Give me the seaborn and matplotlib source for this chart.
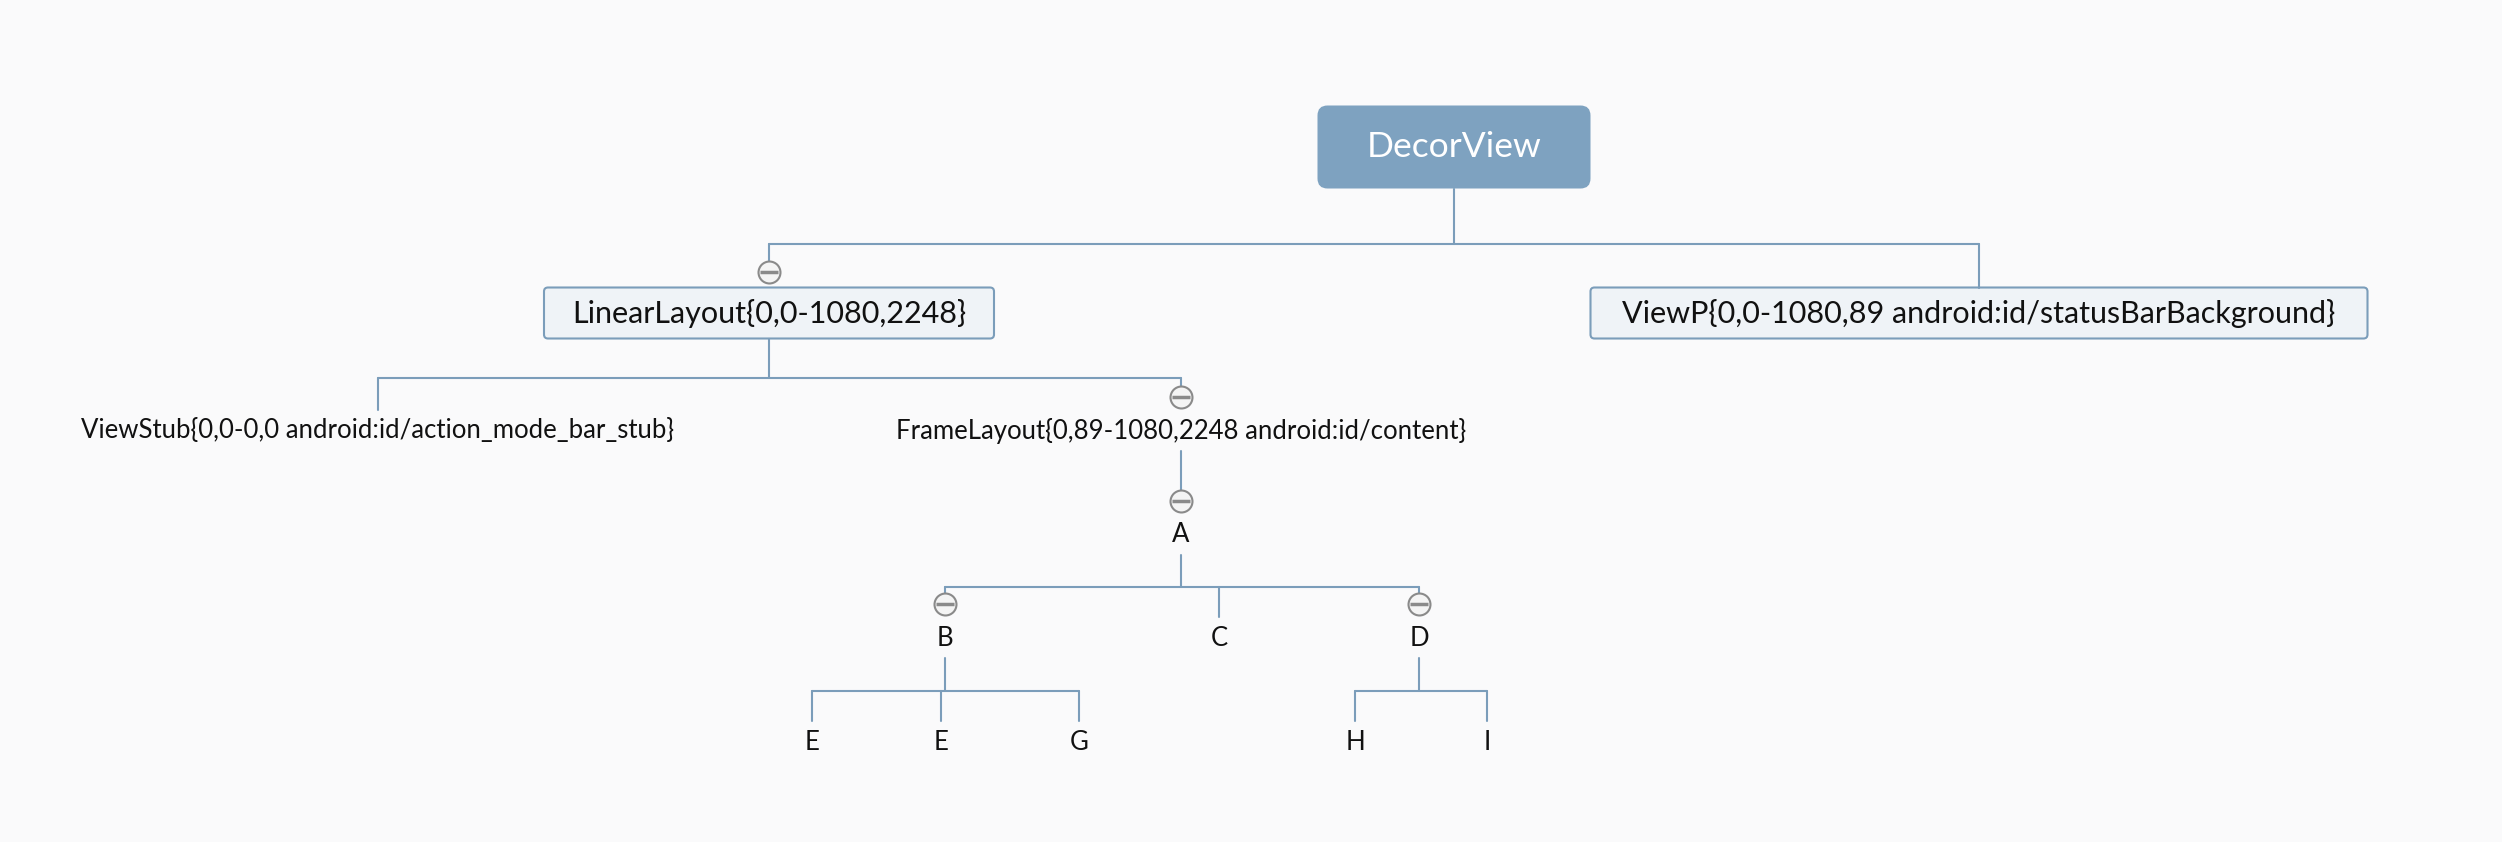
import pandas as pd
import matplotlib.pyplot as plt
import seaborn as sns
from matplotlib.patches import FancyBboxPatch

# tree data
node_labels = ["DecorView",
               "LinearLayout{0,0-1080,2248}",
               "ViewP{0,0-1080,89 android:id/statusBarBackground}",
               "ViewStub{0,0-0,0 android:id/action_mode_bar_stub}",
               "FrameLayout{0,89-1080,2248 android:id/content}",
               "A", "B", "C", "D", "E", "E", "G", "H", "I"]
node_parent = [-1, 0, 0, 1, 1, 4, 5, 5, 5, 6, 6, 6, 8, 8]
node_kind = ["root", "box", "box", "text", "text", "text", "text", "text",
             "text", "text", "text", "text", "text", "text"]

# layout (pixel units of the 2502x842 canvas)
node_x = [1454, 769, 1979, 378, 1181, 1181, 945, 1219, 1419, 812, 941, 1079, 1355, 1487]
node_y = [147, 313, 313, 431, 431, 535, 638, 638, 638, 742, 742, 742, 742, 742]
box_w = {0: 273, 1: 450, 2: 777}
bus_y = {0: 244, 1: 378, 4: 470, 5: 587, 6: 691, 8: 691}

line_col = "#7b9dba"
bg = "#fafafb"

sns.set_theme(style="white")
plt.rcParams['font.family'] = ['Lato', 'DejaVu Sans']

df = pd.DataFrame({"label": node_labels, "parent": node_parent, "kind": node_kind,
                   "x": node_x, "y": node_y})
has_kids = set(p for p in node_parent if p >= 0)
df["toggle"] = [(i in has_kids) and k != "root" for i, k in enumerate(node_kind)]


def box_h(i):
    return 83 if df.kind[i] == "root" else 51


def top_of(i):
    if df.kind[i] == "text":
        return df.y[i] - 21
    return df.y[i] - box_h(i) / 2


def bottom_of(i):
    if df.kind[i] == "text":
        return df.y[i] + 20
    return df.y[i] + box_h(i) / 2


def toggle_y(i):
    if df.kind[i] == "text":
        return df.y[i] - 34
    return top_of(i) - 16


# build connector segments
segs = []
sid = 0
for p, by in bus_y.items():
    kids = df.index[df.parent == p].tolist()
    segs += [(sid, df.x[p], bottom_of(p)), (sid, df.x[p], by)]
    sid += 1
    xs = [df.x[k] for k in kids]
    segs += [(sid, min(xs), by), (sid, max(xs), by)]
    sid += 1
    for k in kids:
        end = toggle_y(k) - 11 if df.toggle[k] else top_of(k)
        segs += [(sid, df.x[k], by), (sid, df.x[k], end)]
        sid += 1
seg_df = pd.DataFrame(segs, columns=["seg", "x", "y"])

fig = plt.figure(figsize=(25.02, 8.42), dpi=100, facecolor=bg)
ax = fig.add_axes([0, 0, 1, 1])
ax.set_facecolor(bg)

sns.lineplot(data=seg_df, x="x", y="y", units="seg", estimator=None, sort=False,
             color=line_col, lw=1.5, ax=ax)

# node boxes and labels
for i, r in df.iterrows():
    if r.kind == "root":
        w, h = box_w[i], box_h(i)
        ax.add_patch(FancyBboxPatch((r.x - w / 2 + 10, r.y - h / 2 + 10), w - 20, h - 20,
                                    boxstyle="round,pad=10", fc="#7ea2c0", ec="none"))
        ax.text(r.x, r.y, r.label, color="white", fontsize=25.5, ha="center", va="center")
    elif r.kind == "box":
        w, h = box_w[i], box_h(i)
        ax.add_patch(FancyBboxPatch((r.x - w / 2 + 4, r.y - h / 2 + 4), w - 8, h - 8,
                                    boxstyle="round,pad=4", fc="#eff3f7", ec=line_col, lw=1.5))
        ax.text(r.x, r.y, r.label, color="#111111", fontsize=22, ha="center", va="center")
    else:
        ax.text(r.x, r.y, r.label, color="#111111", fontsize=18.5, ha="center", va="center")

# collapse toggles
tg = df[df.toggle].copy()
tg["ty"] = [toggle_y(i) for i in tg.index]
sns.scatterplot(data=tg, x="x", y="ty", marker="o", s=250, facecolor="#f4f4f4",
                edgecolor="#8a8a8a", linewidth=1.5, ax=ax, zorder=3)
sns.scatterplot(data=tg, x="x", y="ty", marker="_", s=150, color="#8a8a8a",
                linewidth=2.5, ax=ax, zorder=4)

ax.set_xlim(0, 2502)
ax.set_ylim(842, 0)
ax.set_axis_off()
plt.savefig("out.png", dpi=100, facecolor=bg)
